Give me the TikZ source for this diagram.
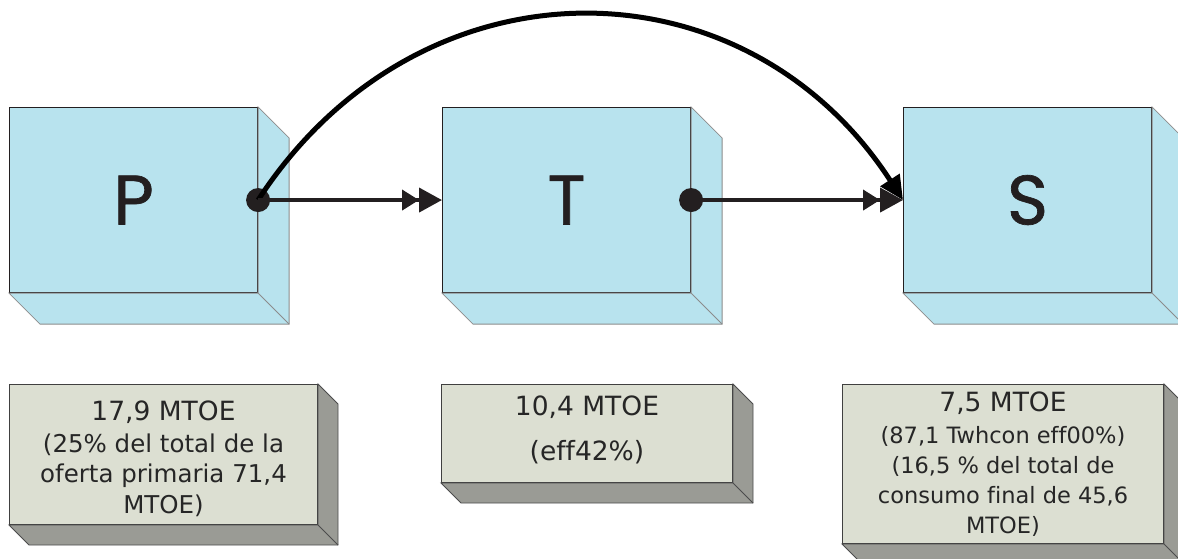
\documentclass[tikz,border=0pt]{standalone}
\usepackage{fontspec}
\usetikzlibrary{arrows.meta,calc}
\newfontfamily\lblfont[Ligatures=NoCommon]{DejaVu Sans}
\newfontfamily\letterfont[FakeBold=1]{Poppins}
\definecolor{boxblue}{HTML}{B8E3EE}
\definecolor{boxgray}{HTML}{DCDFD2}
\definecolor{sidegray}{HTML}{9A9B95}
\definecolor{inkdark}{HTML}{231F20}
\tikzset{
  stagebox/.style={draw=inkdark, line width=1.1pt, fill=boxblue, inner sep=0pt,
    anchor=north west, minimum width=248pt, minimum height=185pt,
    font=\letterfont\fontsize{70}{70}\selectfont, text=inkdark},
  valuebox/.style={draw=black!75, line width=1pt, fill=boxgray, inner sep=0pt,
    anchor=north west},
  % anchored at the baseline of the last line
  valuetext/.style={inner sep=0pt, anchor=base, align=center, text=black!85},
  bluedepth/.style={fill=boxblue, draw=black!45, line width=0.8pt},
  graydepth/.style={fill=sidegray, draw=black!70, line width=0.9pt},
  joint/.style={circle, fill=inkdark, inner sep=0pt, minimum size=24pt},
  flow/.style={draw=inkdark, line width=4pt,
    -{Triangle[length=17pt,width=20pt]Triangle[length=23pt,width=24pt]}},
  bypass/.style={draw=black, line width=5pt,
    -{Triangle[length=24pt,width=22pt]}},
}
% extruded right/bottom faces of a box node
\newcommand\boxdepth[3]{%
  \path[#3] (#1.north east) -- ++(#2,#2) -- ($(#1.south east)+(#2,#2)$)
    -- ($(#1.south west)+(#2,#2)$) -- (#1.south west) -- (#1.south east) -- cycle;
  \draw[#3,fill=none] (#1.south east) -- ++(#2,#2);
}
\newcommand\headsize{\fontsize{26.5}{31}\selectfont}
\begin{document}
\begin{tikzpicture}[x=1pt,y=-1pt]
\useasboundingbox (0,0) rectangle (1178,559);
\clip (0,0) rectangle (1178,559);

% stage boxes
\node[stagebox] (P) at (9,107) {P};
\node[stagebox] (T) at (442,107) {T};
\node[stagebox] (S) at (903,107) {S};
\boxdepth{P}{31}{bluedepth}
\boxdepth{T}{31}{bluedepth}
\boxdepth{S}{31}{bluedepth}

% value boxes
\node[valuebox, minimum width=308pt, minimum height=140pt] (pv) at (9,384) {};
\node[valuebox, minimum width=291pt, minimum height=98pt] (tv) at (441,384) {};
\node[valuebox, minimum width=321pt, minimum height=159pt] (sv) at (842,384) {};
\boxdepth{pv}{20}{graydepth}
\boxdepth{tv}{20}{graydepth}
\boxdepth{sv}{20}{graydepth}

% value texts
\node[valuetext, font=\lblfont\fontsize{24.5}{30.5}\selectfont] (pt) at ($(pv.north)+(0,129)$)
  {{\headsize 17,9 MTOE}\\[1pt](25\% del total de la\\oferta primaria 71,4\\MTOE)};
\node[valuetext, font=\lblfont\fontsize{26.5}{45}\selectfont] (tt) at ($(tv.north)+(0,76)$)
  {10,4 MTOE\\(eff42\%)};
\node[valuetext, font=\lblfont\fontsize{22.5}{30}\selectfont] (st) at ($(sv.north)+(0,149)$)
  {{\headsize 7,5 MTOE}\\[2pt](87,1 Twhcon eff00\%)\\(16,5 \% del total de\\consumo final de 45,6\\MTOE)};

% junction dots
\node[joint] (pd) at (P.east) {};
\node[joint] (td) at (T.east) {};

% flows
\draw[bypass] (pd.center) .. controls +(160,-246) and +(-160,-246) .. (S.west);
\draw[flow] (pd.center) -- (T.west);
\draw[flow] (td.center) -- (S.west);
\end{tikzpicture}
\end{document}
